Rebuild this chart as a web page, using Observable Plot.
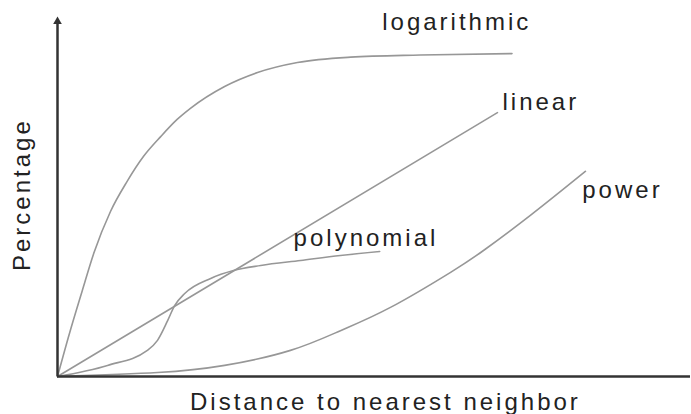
<!DOCTYPE html>
<html>
<head>
<meta charset="utf-8">
<script src="https://cdn.jsdelivr.net/npm/d3@7"></script>
<script src="https://cdn.jsdelivr.net/npm/@observablehq/plot@0.6"></script>
<style>
  html, body { margin: 0; padding: 0; background: #fff; }
</style>
</head>
<body>
<div id="chart"></div>
<script>
// Series values (x = distance, y = percentage, 0–100 units)
const logX  = [0, 1.9, 3.9, 5.73, 8.37, 11.0, 13.6, 16.3, 18.9, 21.0, 26.4, 31.6, 37.9, 46.3, 57.3, 71.8];
const logY  = [0, 12.1, 23.9, 34.4, 46.1, 54.5, 61.5, 67.0, 71.8, 74.9, 81.0, 84.9, 87.7, 89.2, 89.8, 90.2];

const linX  = [0, 69.5];
const linY  = [0, 73.7];

const polyX = [0, 7.9, 14.2, 15.8, 17.4, 18.5, 20.1, 24.2, 27.8, 32.1, 38.4, 44.7, 50.9];
const polyY = [0, 3.1, 7.3, 10.1, 15.6, 19.8, 23.2, 27.4, 29.6, 31.0, 32.4, 33.8, 34.9];

const powX  = [0, 15.8, 26.4, 36.8, 44.7, 52.6, 62.1, 67.3, 74.7, 83.4];
const powY  = [0, 1.1, 3.1, 7.3, 12.8, 19.3, 29.1, 35.2, 45.0, 57.3];

// Curve labels and where they sit (data units)
const labelNames = ["logarithmic", "linear", "power", "polynomial"];
const labelX     = [51.3, 70.3, 82.9, 37.3];
const labelY     = [98.8, 76.5, 51.9, 38.7];

const xTitle = "Distance to nearest neighbor";
const yTitle = "Percentage";

const toRows = (name, xs, ys) => xs.map((x, i) => ({name, x, y: ys[i]}));
const powerSeries = toRows("power", powX, powY);
const otherSeries = [
  ...toRows("logarithmic", logX, logY),
  ...toRows("linear", linX, linY),
  ...toRows("polynomial", polyX, polyY)
];
const labels = labelNames.map((name, i) => ({name, x: labelX[i], y: labelY[i]}));

const curveColor = "#979797";
const axisColor = "#333333";
const textColor = "#222222";

const chart = Plot.plot({
  width: 691,
  height: 414,
  marginLeft: 57,
  marginRight: 1,
  marginTop: 18,
  marginBottom: 38,
  x: {domain: [0, 100], axis: null},
  y: {domain: [0, 100], axis: null},
  style: {
    fontFamily: "'Liberation Sans', Arial, sans-serif",
    fontSize: "24px",
    letterSpacing: "3px",
    color: textColor,
    background: "#fff",
    overflow: "visible"
  },
  marks: [
    Plot.line(powerSeries, {
      x: "x", y: "y",
      stroke: curveColor, strokeWidth: 1.6,
      curve: "natural"
    }),
    Plot.line(otherSeries, {
      x: "x", y: "y", z: "name",
      stroke: curveColor, strokeWidth: 1.6,
      curve: "monotone-x"
    }),
    // axes
    Plot.ruleX([0], {y1: 0, y2: 99, stroke: axisColor, strokeWidth: 2.5}),
    Plot.ruleY([0], {x1: 0, x2: 100, stroke: axisColor, strokeWidth: 2.5}),
    Plot.dot([0], {x: 0, y: 100, symbol: "triangle", r: 3.2, fill: axisColor, stroke: "none", dy: 3}),
    // curve labels
    Plot.text(labels, {
      x: "x", y: "y", text: "name",
      textAnchor: "start", fontSize: 24, fill: textColor
    }),
    // axis titles
    Plot.text([xTitle], {
      x: 51.8, y: 0, text: d => d, dy: 25.5,
      textAnchor: "middle", fontSize: 24, fill: textColor
    }),
    Plot.text([yTitle], {
      frameAnchor: "left", y: 50.8, text: d => d, dx: -35,
      rotate: -90, textAnchor: "middle", fontSize: 24, fill: textColor
    })
  ]
});

document.getElementById("chart").appendChild(chart);
</script>
</body>
</html>
